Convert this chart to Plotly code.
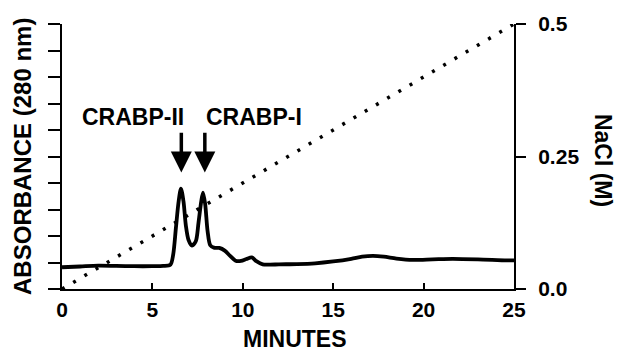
import plotly.graph_objects as go

# Absorbance trace (arbitrary units, one left-axis tick = 1)
time_min = [0, 1, 2, 3, 4, 5, 5.6, 6.0, 6.15, 6.3, 6.45, 6.58, 6.72, 6.85, 7.0, 7.19,
            7.4, 7.55, 7.7, 7.8, 7.92, 8.05, 8.2, 8.4, 8.7, 9.0, 9.3, 9.6, 9.9, 10.2,
            10.5, 10.75, 11.1, 11.5, 12, 13, 14, 15, 16, 16.6, 17.2, 17.8, 18.5, 19.4,
            20.5, 21.6, 23, 24.6, 25]
absorbance = [0.82, 0.85, 0.88, 0.87, 0.86, 0.86, 0.87, 0.92, 1.3, 2.3, 3.3, 3.79, 3.3,
              2.4, 1.85, 1.64, 1.8, 2.5, 3.3, 3.64, 3.2, 2.2, 1.65, 1.56, 1.55, 1.45,
              1.25, 1.07, 1.06, 1.13, 1.19, 1.05, 0.93, 0.92, 0.93, 0.94, 0.97, 1.04,
              1.14, 1.22, 1.25, 1.22, 1.15, 1.1, 1.12, 1.14, 1.12, 1.08, 1.08]

# NaCl gradient
nacl_time = [0, 25]
nacl_conc = [0.0, 0.5]

x_ticks = [0, 5, 10, 15, 20, 25]
x_ticklabels = ["0", "5", "10", "15", "20", "25"]
nacl_ticks = [0, 0.25, 0.5]
nacl_ticklabels = ["0.0", "0.25", "0.5"]

peak_labels = ["CRABP-II", "CRABP-I"]
peak_label_x = [3.95, 10.6]
arrow_x = [6.6, 7.9]

FONT = "Liberation Sans, Arial, sans-serif"

fig = go.Figure()
fig.add_trace(go.Scatter(x=nacl_time, y=nacl_conc, yaxis="y2", mode="lines",
                         line=dict(color="black", width=3.5, dash="3px,10px"),
                         hoverinfo="skip", showlegend=False))
fig.add_trace(go.Scatter(x=time_min, y=absorbance, mode="lines",
                         line=dict(color="black", width=3.8, shape="spline", smoothing=0.8),
                         showlegend=False))

bold = dict(family=FONT, size=23, color="black", weight="bold")
annotations = []
for lab, lx in zip(peak_labels, peak_label_x):
    annotations.append(dict(x=lx, y=6.5, xref="x", yref="y", text=lab, showarrow=False,
                            xanchor="center", yanchor="middle", font=bold))
for ax_ in arrow_x:
    annotations.append(dict(x=ax_, y=4.4, xref="x", yref="y", ax=ax_, ay=5.95,
                            axref="x", ayref="y", text="", showarrow=True,
                            arrowhead=2, arrowsize=1.2, arrowwidth=3.5, arrowcolor="black"))
annotations.append(dict(x=-0.0863, y=0.502, xref="paper", yref="paper",
                        xanchor="center", yanchor="middle",
                        text="ABSORBANCE (280 nm)", textangle=-90, showarrow=False,
                        font=dict(bold, size=24)))
annotations.append(dict(x=1.197, y=0.487, xref="paper", yref="paper",
                        xanchor="center", yanchor="middle",
                        text="NaCl (M)", textangle=90, showarrow=False, font=bold))
annotations.append(dict(x=0.515, y=-0.19, xref="paper", yref="paper",
                        xanchor="center", yanchor="middle",
                        text="MINUTES", showarrow=False, font=bold))

tickfont = dict(family=FONT, size=21, color="black", weight="bold")
fig.update_layout(
    width=617, height=352,
    margin=dict(l=62, r=103, t=20, b=63),
    paper_bgcolor="white", plot_bgcolor="white",
    showlegend=False,
    xaxis=dict(range=[0, 25], tickvals=x_ticks, ticktext=x_ticklabels,
               ticks="inside", ticklen=6, tickwidth=2, tickcolor="black",
               showline=True, linewidth=2, linecolor="black", showgrid=False,
               zeroline=False, ticklabelstandoff=1, tickfont=tickfont),
    yaxis=dict(range=[0, 10], dtick=1, tick0=0, showticklabels=False,
               ticks="outside", ticklen=12, tickwidth=2, tickcolor="black",
               showline=True, linewidth=2, linecolor="black", showgrid=False,
               zeroline=False),
    yaxis2=dict(range=[0, 0.5], overlaying="y", side="right",
                tickvals=nacl_ticks, ticktext=nacl_ticklabels,
                ticks="outside", ticklen=10, tickwidth=2, tickcolor="black",
                showline=True, linewidth=2, linecolor="black", showgrid=False,
                zeroline=False, ticklabelstandoff=8, tickfont=tickfont),
    annotations=annotations,
)

fig.write_html("out.html", config={"displayModeBar": False},
               post_script="document.body.style.margin='0';document.body.style.overflow='hidden';")
